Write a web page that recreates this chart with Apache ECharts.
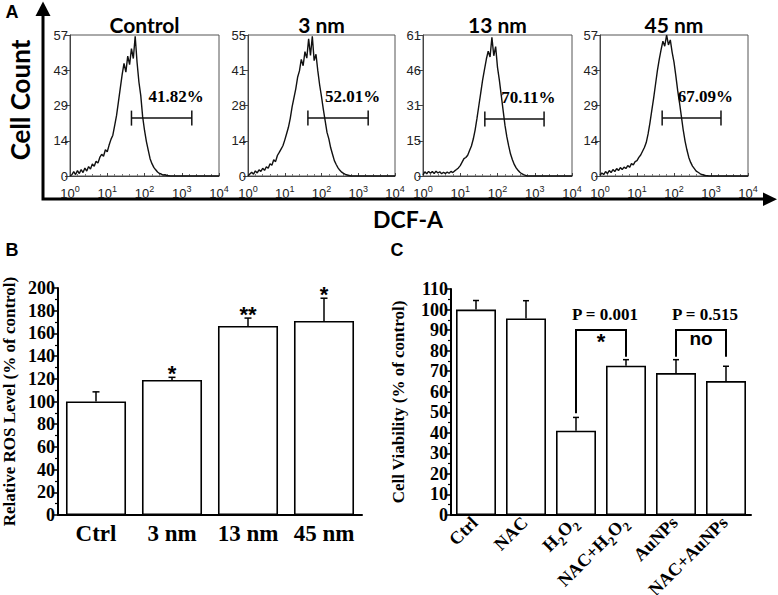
<!DOCTYPE html>
<html><head><meta charset="utf-8">
<script src="https://cdn.jsdelivr.net/npm/echarts@6/dist/echarts.min.js"></script>
<style>html,body{margin:0;padding:0;background:#fff}#c{width:778px;height:595px}</style>
</head><body><div id="c"></div>
<script>
// ---------- Panel A: flow cytometry histograms (x in decades, log10 of DCF-A) ----------
const histBins = [0,0.05,0.1,0.15,0.2,0.25,0.3,0.35,0.4,0.45,0.5,0.55,0.6,0.65,0.7,0.75,0.8,0.85,0.9,0.95,
  1,1.05,1.1,1.15,1.2,1.25,1.3,1.35,1.4,1.45,1.5,1.55,1.6,1.65,1.7,1.75,1.8,1.85,1.9,1.95,
  2,2.05,2.1,2.15,2.2,2.25,2.3,2.35,2.4,2.45,2.5,2.55,2.6,2.65,2.7,2.75,2.8,2.85,2.9,2.95,3,3.5,4];
const histControl = [0,0.5,1.8,0.6,2.2,1.0,2.6,1.4,3.2,2.0,3.8,2.8,4.9,3.9,6.0,5.2,7.5,8.8,8.0,10.6,
  9.8,12.5,14.8,16.5,20.5,24.5,30.0,35.5,41.0,45.5,42.0,48.5,45.0,51.5,47.5,56.5,46.0,38.0,32.5,24.0,
  18.5,14.0,10.5,7.0,5.0,3.5,2.5,1.6,1.0,0.8,0.4,0.5,0.2,0.1,0,0,0,0,0,0,0,0,0];
const hist3nm = [0,0.8,1.5,0.7,2.0,1.2,2.4,1.8,3.0,2.2,3.6,3.0,4.8,4.2,6.3,5.6,8.0,9.2,10.5,11.8,
  14.0,16.5,19.0,22.5,27.0,30.5,34.0,38.5,41.0,45.5,43.0,48.5,46.0,53.5,47.0,54.5,45.0,47.5,41.0,35.5,
  31.0,26.0,21.5,17.0,14.5,11.0,8.5,6.0,4.5,3.2,2.2,1.5,1.0,0.6,0.4,0.2,0,0,0,0,0,0,0];
const hist13nm = [0.5,1.8,1.0,2.0,1.2,1.9,1.1,2.1,1.3,1.8,1.0,1.6,1.1,1.7,1.2,2.0,1.5,2.2,2.8,3.5,
  4.5,6.0,7.5,8.0,9.0,11.0,13.0,16.0,20.0,25.0,30.5,36.0,41.5,46.0,50.5,54.0,51.5,60.0,52.0,56.0,
  47.0,41.5,35.0,28.5,22.0,17.0,13.0,9.5,7.0,5.0,3.5,2.5,1.6,1.0,0.6,0.3,0,0,0,0,0,0,0];
const hist45nm = [0.3,1.2,0.6,1.8,1.0,2.2,1.4,2.6,1.8,3.0,2.2,3.4,2.6,3.6,3.0,4.2,3.5,5.0,4.5,5.8,
  6.2,7.5,8.5,10.0,11.5,13.5,17.0,21.5,26.5,31.5,37.0,42.5,47.0,51.0,54.5,52.5,57.0,53.0,55.0,50.0,
  46.0,40.5,34.5,29.5,24.0,18.5,14.0,10.5,7.5,5.5,4.0,3.0,2.0,1.5,1.0,0.6,0.4,0.2,0.1,0,0,0,0];
const histSeries = [histControl, hist3nm, hist13nm, hist45nm];
const histTitles = ['Control', '3 nm', '13 nm', '45 nm'];
const histMax = [57, 55, 61, 57];
const gateStart = [1.65, 1.63, 1.66, 1.68];
const gateEnd = [3.27, 3.27, 3.25, 3.27];
const gateLevel = [23.4, 22.6, 24.7, 23.4];
const gatePercent = ['41.82%', '52.01%', '70.11%', '67.09%'];
const decadeTicks = [0, 1, 2, 3, 4];

// ---------- Panel B: relative ROS ----------
const rosCategories = ['Ctrl', '3 nm', '13 nm', '45 nm'];
const rosValues = [100, 119, 166.5, 171];
const rosErrors = [8.5, 2.3, 7, 20];
const rosStars = ['', '*', '**', '*'];

// ---------- Panel C: cell viability ----------
const viaCategories = ['Ctrl', 'NAC', 'H2O2', 'NAC+H2O2', 'AuNPs', 'NAC+AuNPs'];
const viaValues = [100, 95.7, 41, 72.7, 69.1, 65.2];
const viaErrors = [4.4, 8.6, 6.5, 2.9, 6.5, 7.2];
const bracketFrom = [2, 4];
const bracketTo = [3, 5];
const bracketTop = [90, 90];
const bracketLeftEnd = [49.5, 77];
const bracketRightEnd = [77, 77];
const bracketMark = ['*', 'no'];
const bracketP = ['P = 0.001', 'P = 0.515'];

// ---------- layout ----------
const histBoxes = [
  {left: 70, top: 35, width: 149, height: 141},
  {left: 248, top: 35, width: 147, height: 141},
  {left: 423, top: 35, width: 149, height: 141},
  {left: 600, top: 35, width: 148, height: 141}
];
const SERIF = 'Liberation Serif';
const SANS = 'Liberation Sans';
const TITLE = 'Lato';

function txt(text, size, family, extra) {
  return Object.assign({text: text, fill: '#000', fontSize: size, fontWeight: 'bold', fontFamily: family,
    align: 'center', verticalAlign: 'middle', textAlign: 'center', textVerticalAlign: 'middle'}, extra || {});
}

const grids = [], xAxes = [], yAxes = [], series = [], graphics = [];

histBoxes.forEach((b, i) => {
  grids.push(Object.assign({show: true, borderColor: '#555', borderWidth: 1, backgroundColor: 'transparent',
    containLabel: false, outerBoundsMode: 'none'}, b));
  xAxes.push({
    gridIndex: i, type: 'value', min: 0, max: 4, interval: 1,
    axisLine: {show: true, lineStyle: {color: '#444', width: 1}},
    axisTick: {show: true, inside: true, length: 3, lineStyle: {color: '#444'}},
    minorTick: {show: true, splitNumber: 5, length: 2, lineStyle: {color: '#777'}},
    splitLine: {show: false},
    axisLabel: {
      margin: 8, color: '#222',
      formatter: v => '{b|10}{s|' + decadeTicks[Math.round(v)] + '}',
      rich: {
        b: {fontSize: 13, fontFamily: SANS, color: '#222', verticalAlign: 'bottom', lineHeight: 16},
        s: {fontSize: 9, fontFamily: SANS, color: '#222', verticalAlign: 'top', lineHeight: 16}
      }
    }
  });
  yAxes.push({
    gridIndex: i, type: 'value', min: 0, max: histMax[i], interval: histMax[i] / 4,
    axisLine: {show: true, lineStyle: {color: '#444', width: 1}},
    axisTick: {show: true, length: 5, lineStyle: {color: '#444'}},
    splitLine: {show: false},
    axisLabel: {margin: 2, fontSize: 13, fontFamily: SANS, color: '#222', formatter: v => String(Math.round(v))}
  });
  series.push({
    type: 'line', xAxisIndex: i, yAxisIndex: i, showSymbol: false, silent: true,
    lineStyle: {color: '#111', width: 1.4},
    data: histBins.map((x, j) => [x, histSeries[i][j]]),
    z: 3
  });
  series.push({
    type: 'custom', xAxisIndex: i, yAxisIndex: i, silent: true, z: 4,
    data: [[gateStart[i], gateEnd[i], gateLevel[i]]],
    renderItem: (params, api) => {
      const p1 = api.coord([api.value(0), api.value(2)]);
      const p2 = api.coord([api.value(1), api.value(2)]);
      const h = 7.5;
      const lbl = api.coord([api.value(1) - 0.42, api.value(2) + histMax[i] * 0.15]);
      return {type: 'group', children: [
        {type: 'line', shape: {x1: p1[0], y1: p1[1], x2: p2[0], y2: p2[1]}, style: {stroke: '#111', lineWidth: 1.5}},
        {type: 'line', shape: {x1: p1[0], y1: p1[1] - h, x2: p1[0], y2: p1[1] + h}, style: {stroke: '#111', lineWidth: 1.5}},
        {type: 'line', shape: {x1: p2[0], y1: p2[1] - h, x2: p2[0], y2: p2[1] + h}, style: {stroke: '#111', lineWidth: 1.5}},
        {type: 'text', x: lbl[0], y: lbl[1], style: txt(gatePercent[i], 17, SERIF)}
      ]};
    }
  });
  graphics.push({type: 'text', x: b.left + b.width / 2, y: 24, silent: true, style: txt(histTitles[i], 21, TITLE)});
});

// Panel B
grids.push({left: 58, top: 288, width: 304, height: 227, containLabel: false, outerBoundsMode: 'none'});
xAxes.push({
  gridIndex: 4, type: 'category', data: rosCategories,
  axisLine: {lineStyle: {color: '#000', width: 2}},
  axisTick: {alignWithLabel: true, length: 5, lineStyle: {color: '#000', width: 1.5}},
  axisLabel: {interval: 0, margin: 7, color: '#000', fontSize: 23, fontWeight: 'bold', fontFamily: SERIF}
});
yAxes.push({
  gridIndex: 4, type: 'value', min: 0, max: 200, interval: 20,
  name: 'Relative ROS Level (% of control)', nameLocation: 'middle', nameGap: 40,
  nameTextStyle: {color: '#000', fontSize: 17, fontWeight: 'bold', fontFamily: SERIF},
  axisLine: {show: true, lineStyle: {color: '#000', width: 2}},
  axisTick: {show: true, length: 5, lineStyle: {color: '#000', width: 1.5}},
  minorTick: {show: true, splitNumber: 2, length: 3, lineStyle: {color: '#000', width: 1.2}},
  splitLine: {show: false},
  axisLabel: {margin: 3, color: '#000', fontSize: 18, fontWeight: 'bold', fontFamily: SERIF}
});
series.push({
  type: 'bar', xAxisIndex: 4, yAxisIndex: 4, barWidth: '79%', silent: true,
  itemStyle: {color: '#fff', borderColor: '#000', borderWidth: 1.6},
  data: rosValues, z: 2
});
series.push({
  type: 'custom', xAxisIndex: 4, yAxisIndex: 4, silent: true, z: 5,
  data: rosValues.map((v, k) => [k, v, rosErrors[k]]),
  renderItem: (params, api) => {
    const k = api.value(0);
    const base = api.coord([k, api.value(1)]);
    const top = api.coord([k, api.value(1) + api.value(2)]);
    const cap = 3.5;
    return {type: 'group', children: [
      {type: 'line', shape: {x1: base[0], y1: base[1], x2: top[0], y2: top[1]}, style: {stroke: '#000', lineWidth: 1.5}},
      {type: 'line', shape: {x1: top[0] - cap, y1: top[1], x2: top[0] + cap, y2: top[1]}, style: {stroke: '#000', lineWidth: 1.5}},
      {type: 'text', x: top[0], y: top[1] - 4, style: txt(rosStars[k], 22, SANS)}
    ]};
  }
});

// Panel C
grids.push({left: 451, top: 289, width: 300, height: 226, containLabel: false, outerBoundsMode: 'none'});
xAxes.push({
  gridIndex: 5, type: 'category', data: viaCategories,
  axisLine: {lineStyle: {color: '#000', width: 2}},
  axisTick: {alignWithLabel: true, length: 5, lineStyle: {color: '#000', width: 1.5}},
  axisLabel: {
    margin: 6, rotate: 45, interval: 0,
    formatter: v => '{m|' + v.replace(/2/g, '}{s|2}{m|') + '}',
    rich: {
      m: {fontSize: 18, fontWeight: 'bold', fontFamily: SERIF, color: '#000', verticalAlign: 'top', lineHeight: 22},
      s: {fontSize: 13, fontWeight: 'bold', fontFamily: SERIF, color: '#000', verticalAlign: 'bottom', lineHeight: 22}
    }
  }
});
yAxes.push({
  gridIndex: 5, type: 'value', min: 0, max: 110, interval: 10,
  name: 'Cell Viability (% of control)', nameLocation: 'middle', nameGap: 44,
  nameTextStyle: {color: '#000', fontSize: 17, fontWeight: 'bold', fontFamily: SERIF},
  axisLine: {show: true, lineStyle: {color: '#000', width: 2}},
  axisTick: {show: true, length: 5, lineStyle: {color: '#000', width: 1.5}},
  minorTick: {show: true, splitNumber: 2, length: 3, lineStyle: {color: '#000', width: 1.2}},
  splitLine: {show: false},
  axisLabel: {margin: 3, color: '#000', fontSize: 18, fontWeight: 'bold', fontFamily: SERIF}
});
series.push({
  type: 'bar', xAxisIndex: 5, yAxisIndex: 5, barWidth: '80%', silent: true,
  itemStyle: {color: '#fff', borderColor: '#000', borderWidth: 1.6},
  data: viaValues, z: 2
});
series.push({
  type: 'custom', xAxisIndex: 5, yAxisIndex: 5, silent: true, z: 5,
  data: viaValues.map((v, k) => [k, v, viaErrors[k]]),
  renderItem: (params, api) => {
    const k = api.value(0);
    const base = api.coord([k, api.value(1)]);
    const top = api.coord([k, api.value(1) + api.value(2)]);
    const cap = 3;
    return {type: 'group', children: [
      {type: 'line', shape: {x1: base[0], y1: base[1], x2: top[0], y2: top[1]}, style: {stroke: '#000', lineWidth: 1.5}},
      {type: 'line', shape: {x1: top[0] - cap, y1: top[1], x2: top[0] + cap, y2: top[1]}, style: {stroke: '#000', lineWidth: 1.5}}
    ]};
  }
});
series.push({
  type: 'custom', xAxisIndex: 5, yAxisIndex: 5, silent: true, z: 6,
  data: bracketFrom.map((f, k) => [f, bracketTo[k], bracketTop[k], bracketLeftEnd[k], bracketRightEnd[k], k]),
  renderItem: (params, api) => {
    const f = api.value(0), t = api.value(1), top = api.value(2), k = api.value(5);
    const a = api.coord([f, api.value(3)]);
    const b = api.coord([f, top]);
    const c = api.coord([t, top]);
    const d = api.coord([t, api.value(4)]);
    const mx = (b[0] + c[0]) / 2;
    const star = bracketMark[k] === '*';
    return {type: 'group', children: [
      {type: 'polyline', shape: {points: [a, b, c, d]}, style: {stroke: '#000', lineWidth: 2, fill: null}},
      {type: 'text', x: mx, y: b[1] + (star ? 11 : 8), style: txt(bracketMark[k], star ? 22 : 19, SANS)},
      {type: 'text', x: mx + 4, y: b[1] - 16, style: txt(bracketP[k], 17, SERIF)}
    ]};
  }
});

// Panel A big axes, letters, titles
graphics.push(
  {type: 'polyline', silent: true, shape: {points: [[43, 14], [43, 199], [766, 199]]}, style: {stroke: '#000', lineWidth: 3, fill: null}},
  {type: 'polygon', silent: true, shape: {points: [[35.5, 16], [50.5, 16], [43, 1.5]]}, style: {fill: '#000'}},
  {type: 'polygon', silent: true, shape: {points: [[763, 192.5], [763, 206], [777, 199.3]]}, style: {fill: '#000'}},
  {type: 'text', x: 20, y: 100, rotation: Math.PI / 2, silent: true, style: txt('Cell Count', 26, TITLE)},
  {type: 'text', x: 408, y: 219, silent: true, style: txt('DCF-A', 23, TITLE)},
  {type: 'text', x: 12, y: 12, silent: true, style: txt('A', 18, SANS)},
  {type: 'text', x: 12, y: 250, silent: true, style: txt('B', 18, SANS)},
  {type: 'text', x: 397, y: 250, silent: true, style: txt('C', 18, SANS)}
);

const chart = echarts.init(document.getElementById('c'), null, {renderer: 'svg'});
chart.setOption({
  animation: false,
  backgroundColor: '#fff',
  grid: grids, xAxis: xAxes, yAxis: yAxes, series: series, graphic: graphics
});
</script></body></html>
